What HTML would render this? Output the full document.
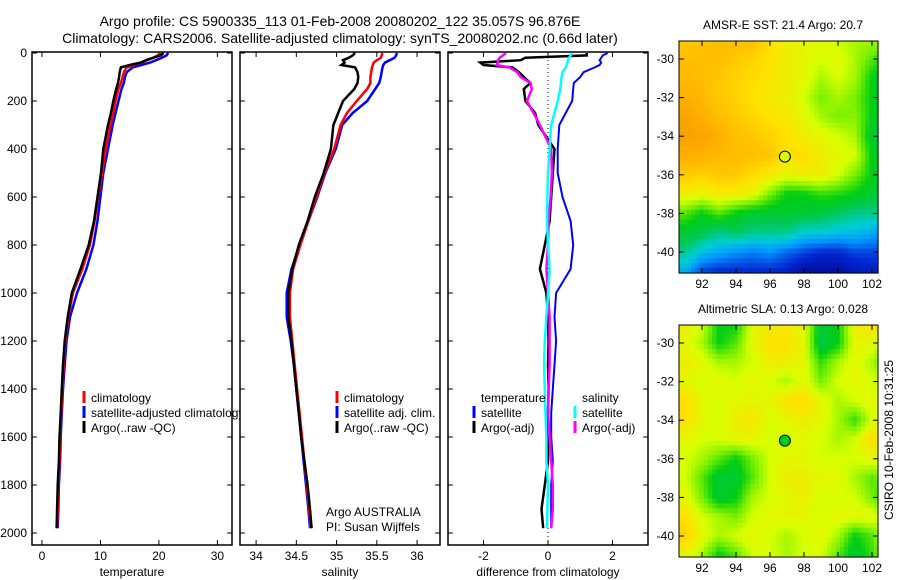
<!DOCTYPE html>
<html><head><meta charset="utf-8"><style>
body{margin:0;background:#fff;}
svg{display:block;font-family:"Liberation Sans",sans-serif;}
</style></head><body>
<svg id="fig" width="900" height="580" viewBox="0 0 900 580">
<text x="340" y="26" font-size="14" text-anchor="middle">Argo profile: CS 5900335_113 01-Feb-2008 20080202_122 35.057S 96.876E</text>
<text x="340" y="43" font-size="14" text-anchor="middle">Climatology: CARS2006. Satellite-adjusted climatology: synTS_20080202.nc (0.66d later)</text>
<g id="g"></g>
</svg>
<script>
const depths=[0,10,20,30,40,50,60,80,100,125,150,200,250,300,400,500,600,700,800,900,1000,1100,1200,1300,1400,1500,1600,1700,1800,1900,1980];
const tempClim=[20.3,19.8,19,18,17,15.8,14.5,14,13.8,13.5,13.1,12.6,12.2,11.7,10.9,10.3,9.6,9.0,8.2,6.9,5.3,4.5,4.0,3.7,3.5,3.3,3.1,3.0,2.8,2.7,2.6];
const tempSat=[21.6,21.3,20.5,19.5,18.5,17,15.5,14.5,14.2,14,13.6,13.1,12.6,12.1,11.3,10.5,10,9.5,8.8,7.6,6.0,4.8,4.2,3.9,3.6,3.4,3.2,3.1,2.9,2.8,2.7];
const tempArgo=[20.8,20.3,19,17.8,16.9,15,13.5,13.3,13.2,13,12.7,12.2,11.8,11.3,10.5,10.1,9.5,8.9,8.0,6.6,5.1,4.4,3.9,3.6,3.4,3.2,3.0,2.9,2.7,2.6,2.5];
const salClim=[35.57,35.56,35.55,35.5,35.46,35.45,35.44,35.43,35.42,35.42,35.38,35.25,35.13,35.05,34.97,34.85,34.75,34.65,34.55,34.46,34.42,34.42,34.45,34.48,34.51,34.54,34.57,34.6,34.63,34.66,34.68];
const salSat=[35.75,35.74,35.72,35.66,35.6,35.58,35.57,35.56,35.55,35.53,35.48,35.38,35.2,35.07,34.99,34.86,34.76,34.65,34.54,34.44,34.38,34.38,34.43,34.47,34.5,34.53,34.56,34.59,34.62,34.65,34.67];
const salArgo=[35.23,35.2,35.15,35.08,35.1,35.06,35.23,35.26,35.27,35.26,35.22,35.08,35.02,34.96,34.93,34.84,34.73,34.64,34.53,34.45,34.4,34.4,34.44,34.47,34.5,34.53,34.56,34.6,34.64,34.67,34.69];
const dTempSat=[1.85,1.7,1.65,1.6,1.65,1.6,1.45,1.1,1.0,0.8,0.78,0.75,0.55,0.35,0.3,0.3,0.45,0.7,0.78,0.7,0.25,0.2,0.25,0.2,0.15,0.1,0.1,0.15,0.1,0.1,0.1];
const dTempArgo=[1.2,1.2,-0.7,-0.85,-2.1,-2.0,-1.1,-0.9,-0.75,-0.55,-0.75,-0.7,-0.4,-0.3,0.2,0.15,0.1,0.05,-0.1,-0.25,-0.05,0.0,0.02,0.0,0.02,0.0,0.0,0.0,-0.1,-0.2,-0.15];
const dSalSat=[0.75,0.7,0.65,0.62,0.6,0.58,0.55,0.45,0.42,0.4,0.38,0.3,0.2,0.1,0.05,0.0,-0.02,-0.03,0.0,0.05,0.0,-0.05,-0.1,-0.12,-0.1,-0.08,-0.05,-0.05,0.0,-0.02,-0.03];
const dSalArgo=[-1.3,-1.4,-1.5,-1.55,-1.55,-1.6,-1.2,-0.95,-0.85,-0.55,-0.5,-0.65,-0.45,-0.25,0.1,0.12,0.08,0.02,0.0,-0.05,0.0,0.05,0.05,0.05,0.02,0.0,0.05,0.1,0.15,0.15,0.1];
const depthTicks=[0,200,400,600,800,1000,1200,1400,1600,1800,2000];
const tempTicks=[0,10,20,30];
const salTicks=[34,34.5,35,35.5,36];
const salTickLabels=["34","34.5","35","35.5","36"];
const diffTicks=[-2,0,2];
const lonTicks=[92,94,96,98,100,102];
const latTicks=[-30,-32,-34,-36,-38,-40];
const mapLons=[91,92,93,94,95,96,97,98,99,100,101,102,103];
const mapLats=[-29,-30,-31,-32,-33,-34,-35,-36,-37,-38,-39,-40,-41];
const sstIdx=[
[0.7,0.71,0.72,0.72,0.72,0.65,0.62,0.6,0.6,0.57,0.55,0.55,0.55],
[0.72,0.72,0.72,0.7,0.68,0.65,0.62,0.6,0.58,0.6,0.55,0.5,0.45],
[0.73,0.72,0.7,0.68,0.66,0.64,0.62,0.6,0.55,0.58,0.55,0.45,0.42],
[0.75,0.73,0.7,0.68,0.65,0.63,0.62,0.58,0.52,0.55,0.52,0.45,0.4],
[0.77,0.75,0.72,0.7,0.67,0.65,0.63,0.6,0.55,0.52,0.53,0.45,0.42],
[0.78,0.77,0.75,0.72,0.7,0.68,0.65,0.62,0.6,0.58,0.55,0.42,0.4],
[0.75,0.75,0.73,0.72,0.72,0.7,0.65,0.66,0.62,0.6,0.58,0.45,0.4],
[0.7,0.68,0.7,0.7,0.66,0.63,0.6,0.62,0.62,0.58,0.52,0.45,0.42],
[0.62,0.6,0.63,0.62,0.6,0.52,0.45,0.45,0.48,0.47,0.45,0.42,0.4],
[0.5,0.45,0.5,0.45,0.42,0.42,0.42,0.42,0.4,0.38,0.35,0.35,0.33],
[0.42,0.4,0.35,0.38,0.35,0.35,0.35,0.3,0.3,0.28,0.28,0.25,0.22],
[0.35,0.28,0.25,0.22,0.2,0.22,0.18,0.15,0.12,0.12,0.15,0.15,0.15],
[0.25,0.15,0.12,0.12,0.12,0.12,0.1,0.05,0.05,0.05,0.08,0.1,0.1]];
const slaIdx=[
[0.62,0.58,0.45,0.45,0.6,0.62,0.63,0.6,0.42,0.45,0.62,0.65,0.7],
[0.6,0.55,0.45,0.5,0.6,0.65,0.65,0.6,0.4,0.45,0.6,0.6,0.52],
[0.62,0.6,0.55,0.55,0.58,0.62,0.62,0.6,0.48,0.55,0.6,0.55,0.48],
[0.6,0.58,0.6,0.58,0.6,0.58,0.55,0.6,0.52,0.58,0.6,0.58,0.58],
[0.66,0.6,0.58,0.6,0.6,0.6,0.65,0.66,0.6,0.55,0.58,0.6,0.58],
[0.65,0.6,0.58,0.62,0.64,0.58,0.6,0.62,0.6,0.55,0.48,0.58,0.6],
[0.6,0.58,0.58,0.6,0.6,0.58,0.58,0.6,0.58,0.55,0.58,0.66,0.6],
[0.58,0.55,0.5,0.45,0.52,0.58,0.6,0.6,0.58,0.58,0.58,0.6,0.58],
[0.58,0.5,0.42,0.42,0.5,0.58,0.62,0.62,0.6,0.6,0.55,0.5,0.55],
[0.6,0.52,0.42,0.45,0.55,0.58,0.6,0.62,0.58,0.58,0.58,0.52,0.45],
[0.65,0.58,0.55,0.52,0.58,0.6,0.6,0.6,0.58,0.6,0.6,0.6,0.55],
[0.68,0.6,0.55,0.58,0.6,0.58,0.55,0.58,0.6,0.55,0.45,0.5,0.6],
[0.6,0.55,0.45,0.5,0.58,0.58,0.55,0.58,0.58,0.5,0.42,0.48,0.58]];
const argoLon=96.876, argoLat=-35.057;

const NS="http://www.w3.org/2000/svg";
const G=document.getElementById('g');
function mk(tag,attrs,parent){const e=document.createElementNS(NS,tag);for(const k in attrs)e.setAttribute(k,attrs[k]);(parent||G).appendChild(e);return e;}
function txt(x,y,s,size,anchor,parent){const t=mk('text',{x:x,y:y,'font-size':size,'text-anchor':anchor||'start'},parent);t.textContent=s;return t;}
const yTop=52,yBot=545;
const yD=d=>53+d*0.24;

function panel(name,x0,x1,xmin,xmax,ticks,labels,xlabel,showY){
  const g=mk('g',{});
  
  
  const sx=v=>x0+(v-xmin)/(xmax-xmin)*(x1-x0);
  mk('rect',{x:x0,y:yTop,width:x1-x0,height:yBot-yTop,fill:'#fff',stroke:'#000','stroke-width':1.5},g);
  depthTicks.forEach(d=>{const y=yD(d);
    mk('line',{x1:x0,y1:y,x2:x0+5,y2:y,stroke:'#000'},g);
    mk('line',{x1:x1-5,y1:y,x2:x1,y2:y,stroke:'#000'},g);
    if(showY){const t=txt(27,y+4,String(d),12,'end',g);}
  });
  ticks.forEach((v,i)=>{const x=sx(v);
    mk('line',{x1:x,y1:yBot,x2:x,y2:yBot-5,stroke:'#000'},g);
    mk('line',{x1:x,y1:yTop,x2:x,y2:yTop+5,stroke:'#000'},g);
    const t=txt(x,560,labels[i],12,'middle',g);
    
    
  });
  const xl=txt((x0+x1)/2,576,xlabel,12,'middle',g);
  
  
  return {g,sx};
}
function line(p,vals,color,name,w){
  const pts=vals.map((v,i)=>p.sx(v).toFixed(1)+','+yD(depths[i]).toFixed(1)).join(' ');
  const l=mk('polyline',{points:pts,fill:'none',stroke:color,'stroke-width':w||2.5,'stroke-linejoin':'miter'},p.g);
  
  
}
function legItem(g,x,y,color,label){
  if(color){mk('line',{x1:x,y1:y-11,x2:x,y2:y+1,stroke:color,'stroke-width':3},g);}
  const t=txt(x+7,y,label,12,'start',g);
  
  
}
// Panel 1
const p1=panel('temperature-panel',32,232,-1.7,32.5,tempTicks,tempTicks.map(String),'temperature',true);
line(p1,tempSat,'#0000ff','temp-satellite-line');
line(p1,tempClim,'#ff0000','temp-climatology-line');
line(p1,tempArgo,'#000','temp-argo-line');
legItem(p1.g,84,402,'#ff0000','climatology');
legItem(p1.g,84,417,'#0000ff','satellite-adjusted climatology');
legItem(p1.g,84,432,'#000','Argo(..raw -QC)');
// Panel 2
const p2=panel('salinity-panel',240,440,33.8,36.285,salTicks,salTickLabels,'salinity',false);
line(p2,salSat,'#0000ff','sal-satellite-line');
line(p2,salClim,'#ff0000','sal-climatology-line');
line(p2,salArgo,'#000','sal-argo-line');
legItem(p2.g,337,402,'#ff0000','climatology');
legItem(p2.g,337,417,'#0000ff','satellite adj. clim.');
legItem(p2.g,337,432,'#000','Argo(..raw -QC)');
const a1=txt(326,516,'Argo AUSTRALIA',12,'start',p2.g);
const a2=txt(326,531,'PI: Susan Wijffels',12,'start',p2.g);
// Panel 3
const p3=panel('difference-panel',448,648,-3.1,3.1,diffTicks,diffTicks.map(String),'difference from climatology',false);
mk('line',{x1:p3.sx(0),y1:yTop,x2:p3.sx(0),y2:yBot,stroke:'#000','stroke-dasharray':'1,3'},p3.g);
line(p3,dTempSat,'#0000ff','diff-temp-satellite-line',2);
line(p3,dTempArgo,'#000','diff-temp-argo-line',2.5);
line(p3,dSalArgo,'#ff00ff','diff-sal-argo-line',2.5);
line(p3,dSalSat,'#00ffff','diff-sal-satellite-line',2.5);
legItem(p3.g,474,402,null,'temperature');
legItem(p3.g,474,417,'#0000ff','satellite');
legItem(p3.g,474,432,'#000','Argo(-adj)');
legItem(p3.g,575,402,null,'salinity');
legItem(p3.g,575,417,'#00ffff','satellite');
legItem(p3.g,575,432,'#ff00ff','Argo(-adj)');

// maps
const cmapStops=[[0,0,0,130],[0.12,0,40,210],[0.22,0,150,255],[0.3,0,205,215],[0.38,0,200,90],[0.45,0,205,20],[0.52,120,240,0],[0.58,215,255,0],[0.65,255,225,0],[0.75,255,175,0],[0.85,235,125,0],[1,200,60,0]];
function cmap(t){t=Math.max(0,Math.min(1,t));
  for(let i=1;i<cmapStops.length;i++){const a=cmapStops[i-1],b=cmapStops[i];
    if(t<=b[0]){const u=(t-a[0])/(b[0]-a[0]);
      return 'rgb('+Math.round(a[1]+(b[1]-a[1])*u)+','+Math.round(a[2]+(b[2]-a[2])*u)+','+Math.round(a[3]+(b[3]-a[3])*u)+')';}}
  return 'rgb(200,60,0)';}
function interp(grid,lon,lat){
  let fx=(lon-mapLons[0]),fy=(mapLats[0]-lat);
  fx=Math.max(0,Math.min(12,fx));fy=Math.max(0,Math.min(12,fy));
  const i=Math.min(11,Math.floor(fx)),j=Math.min(11,Math.floor(fy));const u=fx-i,v=fy-j;
  return grid[j][i]*(1-u)*(1-v)+grid[j][i+1]*u*(1-v)+grid[j+1][i]*(1-u)*v+grid[j+1][i+1]*u*v;}
function map(name,grid,top,bot,lat30y,lat40y,title,markerIdx){
  const g=mk('g',{});
  
  
  const L=679,R=878;
  const k=(lat40y-lat30y)/10;
  const sx=lon=>702+(lon-92)*17;
  const sy=lat=>lat30y+(-30-lat)*k;
  const lon0=90.6,lon1=103.1,latT=-30+(lat30y-top)/k,latB=-30-(bot-lat30y)/k;
  const step=0.25;
  for(let lat=latT;lat>latB-step;lat-=step){
    for(let lon=lon0;lon<lon1;lon+=step){
      const x=Math.max(L,sx(lon)),x2=Math.min(R,sx(lon+step));
      const y=Math.max(top,sy(lat)),y2=Math.min(bot,sy(lat-step));
      if(x2<=x||y2<=y)continue;
      mk('rect',{x:x.toFixed(2),y:y.toFixed(2),width:(x2-x+0.6).toFixed(2),height:(y2-y+0.6).toFixed(2),fill:cmap(interp(grid,lon+step/2,lat-step/2))},g);
    }
  }
  mk('rect',{x:L,y:top,width:R-L,height:bot-top,fill:'none',stroke:'#000','stroke-width':1},g);
  lonTicks.forEach(v=>{const x=sx(v);
    mk('line',{x1:x,y1:bot,x2:x,y2:bot-5,stroke:'#000'},g);mk('line',{x1:x,y1:top,x2:x,y2:top+5,stroke:'#000'},g);
    const t=txt(x,bot+15,String(v),12,'middle',g);});
  latTicks.forEach(v=>{const y=sy(v);
    mk('line',{x1:L,y1:y,x2:L+5,y2:y,stroke:'#000'},g);mk('line',{x1:R-5,y1:y,x2:R,y2:y,stroke:'#000'},g);
    const t=txt(674,y+4,String(v),12,'end',g);});
  const tt=txt(783,top-12,title,12,'middle',g);
  const c=mk('circle',{cx:sx(argoLon),cy:sy(argoLat),r:5.5,fill:cmap(markerIdx),stroke:'#000','stroke-width':1},g);
  
  
}
map('sst-map',sstIdx,41,273,59,252,'AMSR-E SST: 21.4  Argo: 20.7',0.58);
map('sla-map',slaIdx,325,557,343,536,'Altimetric SLA: 0.13  Argo: 0.028',0.45);
const cs=mk('text',{x:0,y:0,'font-size':12,'text-anchor':'middle',transform:'translate(893,440) rotate(-90)'});
cs.textContent='CSIRO 10-Feb-2008 10:31:25';


</script>
</body></html>
